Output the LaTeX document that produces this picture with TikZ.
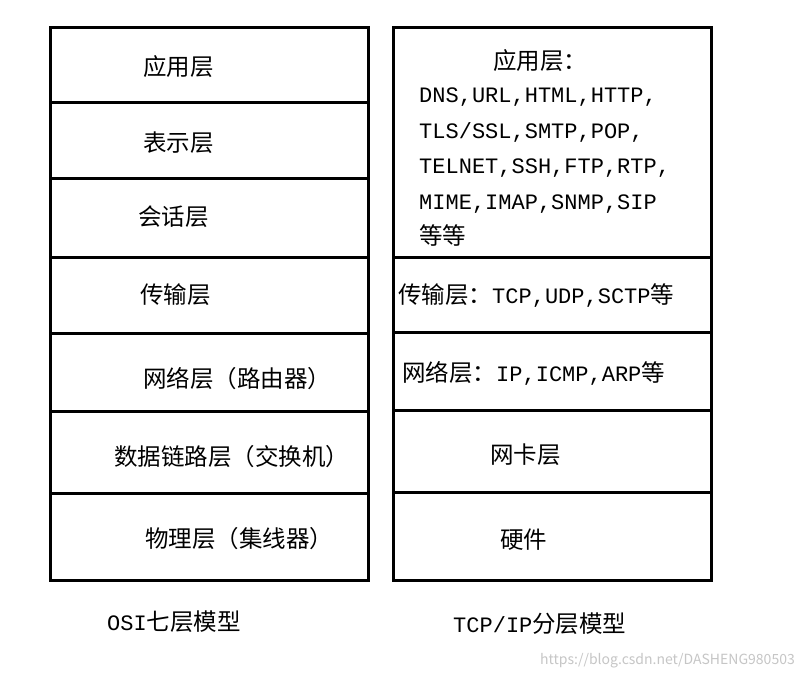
\documentclass[tikz,border=0pt]{standalone}
\usepackage{fontspec}
\setmainfont{Noto Sans CJK SC}
\newfontfamily\latmono{Liberation Mono}
\newcommand{\lm}[1]{{\latmono\fontsize{22}{26}\selectfont #1}}
\begin{document}
\begin{tikzpicture}[x=1pt,y=-1pt,
  box/.style={draw=black,line width=3pt},
  lab/.style={anchor=west,font=\fontsize{23.5}{26}\selectfont,inner sep=0pt},
  captxt/.style={anchor=west,font=\fontsize{23.5}{26}\selectfont,inner sep=0pt}]
\useasboundingbox (0,0) rectangle (802,678);
\fill[white] (0,0) rectangle (802,678);
% left column
\draw[box] (50,27) rectangle (368,580);
\foreach \y in {102,178,257,333,411,493} \draw[box] (50,\y) -- (368,\y);
% right column
\draw[box] (393,27) rectangle (711,580);
\foreach \y in {257,332,410,492} \draw[box] (393,\y) -- (711,\y);
\node[lab] (l1) at (143,67) {应用层};
\node[lab] (l2) at (143,143) {表示层};
\node[lab] (l3) at (138,217) {会话层};
\node[lab] (l4) at (140,295) {传输层};
\node[lab] (l5) at (143,379) {网络层（路由器）};
\node[lab] (l6) at (114,457) {数据链路层（交换机）};
\node[lab] (l7) at (145,539) {物理层（集线器）};
\node[lab] (r1) at (493,61) {应用层：};
\node[lab,align=left,anchor=north west,font=\fontsize{23.5}{35.5}\selectfont] (r1b) at (419,88)
  {\lm{DNS,URL,HTML,HTTP,}\\\lm{TLS/SSL,SMTP,POP,}\\\lm{TELNET,SSH,FTP,RTP,}\\\lm{MIME,IMAP,SNMP,SIP}\\等等};
\node[lab] (r2) at (398,296) {传输层：\lm{TCP,UDP,SCTP}等};
\node[lab] (r3) at (402,373) {网络层：\lm{IP,ICMP,ARP}等};
\node[lab] (r4) at (490,455) {网卡层};
\node[lab] (r5) at (500,540) {硬件};
\node[captxt] (c1) at (107,622) {\lm{OSI}七层模型};
\node[captxt] (c2) at (453,624) {\lm{TCP/IP}分层模型};
\node[anchor=east,text=gray!45,font=\fontsize{14}{16}\selectfont,inner sep=0pt] (wm) at (795,661) {https://blog.csdn.net/DASHENG980503};
\end{tikzpicture}
\end{document}
